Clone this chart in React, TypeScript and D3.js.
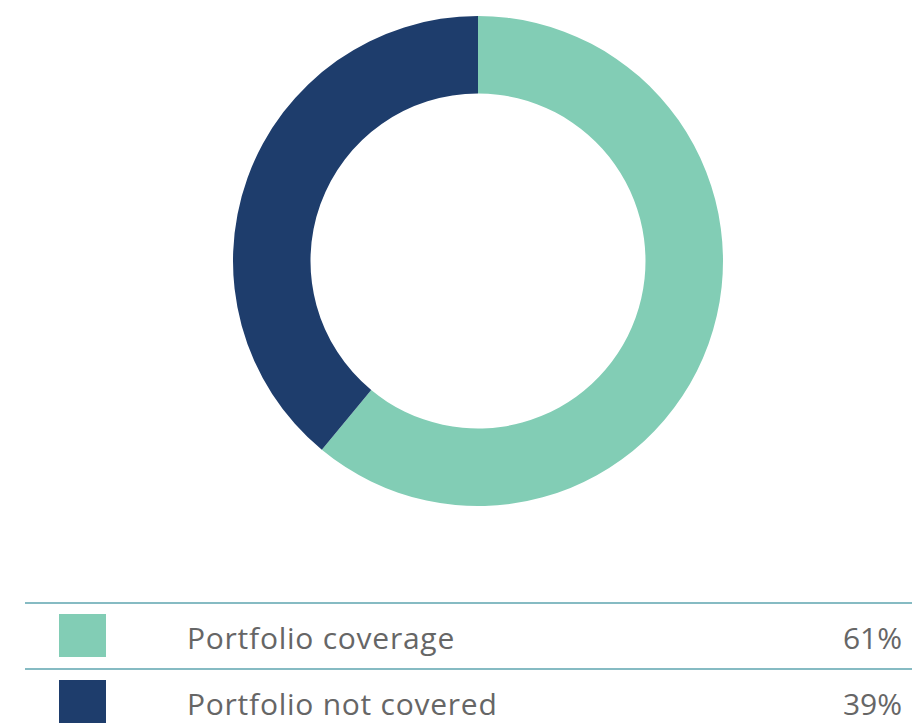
import React from "react";
import * as d3 from "d3";

const categories = ["Portfolio coverage", "Portfolio not covered"];
const values = [61, 39];
const valueLabels = ["61%", "39%"];
const colors = ["#82CDB5", "#1E3D6C"];

const W = 912;
const H = 726;

export default function App() {
  const cx = 478;
  const cy = 261;
  const outerR = 245;
  const innerR = 167.5;

  const pie = d3.pie<number>().sort(null).value((d) => d);
  const arcs = pie(values);
  const arcGen = d3.arc<d3.PieArcDatum<number>>().innerRadius(innerR).outerRadius(outerR);

  const rowY = d3.scaleBand<string>().domain(categories).range([603, 735]).paddingInner(0).paddingOuter(0);

  const font = "'Open Sans', sans-serif";

  return (
    <div style={{ position: "absolute", left: 0, top: 0 }}>
      <svg width={W} height={H} style={{ display: "block" }}>
        <rect width={W} height={H} fill="#ffffff" />
        <g transform={`translate(${cx},${cy})`}>
          {arcs.map((a, i) => (
            <path key={i} d={arcGen(a) || ""} fill={colors[i]} />
          ))}
        </g>
        {categories.map((c, i) => {
          const y0 = rowY(c) as number;
          return (
            <g key={c}>
              <line x1={25} x2={W} y1={y0} y2={y0} stroke="#86BBC3" strokeWidth={2} />
              <rect x={59} y={y0 + 11} width={47} height={43} fill={colors[i]} />
              <text x={187} y={y0 + 46} fontFamily={font} fontSize={30} letterSpacing={0.75} fill="#666666">
                {c}
              </text>
              <text x={902} y={y0 + 46} textAnchor="end" fontFamily={font} fontSize={30} fill="#666666">
                {valueLabels[i]}
              </text>
            </g>
          );
        })}
      </svg>
    </div>
  );
}
